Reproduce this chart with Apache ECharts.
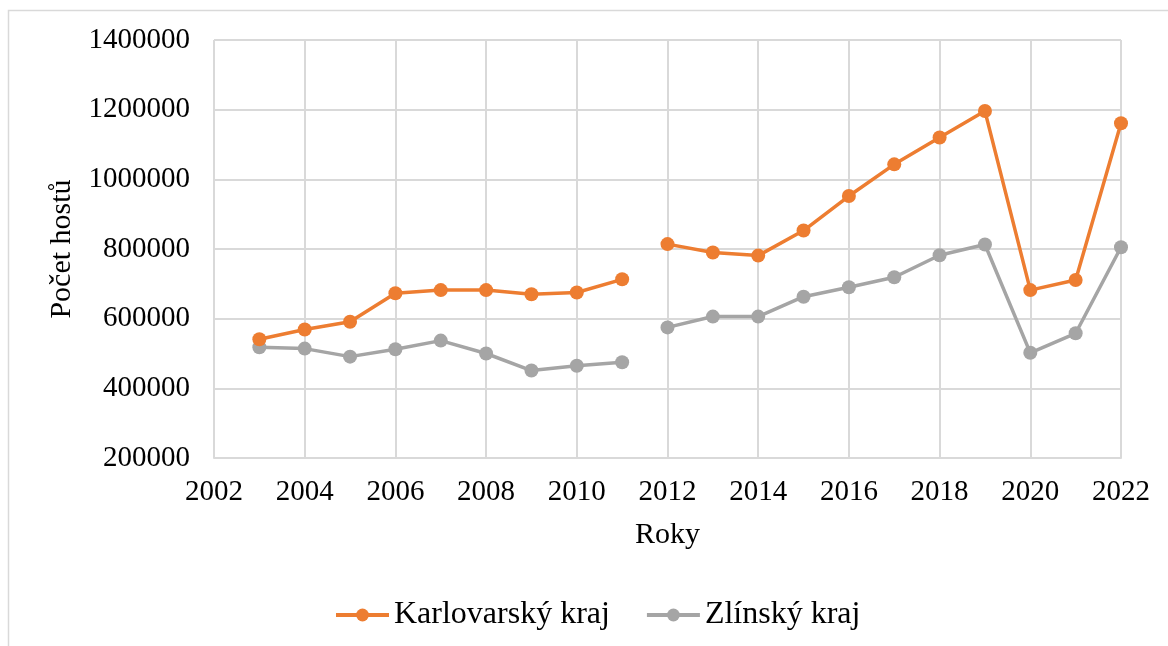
<!DOCTYPE html>
<html>
<head>
<meta charset="utf-8">
<script src="https://cdn.jsdelivr.net/npm/echarts@6/dist/echarts.min.js"></script>
<style>
  html, body { margin: 0; padding: 0; background: #fff; }
  #chart { width: 1168px; height: 646px; }
</style>
</head>
<body>
<div id="chart"></div>
<script>
// data
var roky = [2003, 2004, 2005, 2006, 2007, 2008, 2009, 2010, 2011,
            2012, 2013, 2014, 2015, 2016, 2017, 2018, 2019, 2020, 2021, 2022];
var karlovarsky = [541000, 569000, 591000, 673000, 682000, 682000, 670000, 675000, 713000,
                   814000, 790000, 781000, 853000, 952000, 1043000, 1120000, 1196000, 682000, 711000, 1161000];
var zlinsky = [518000, 514000, 491000, 512000, 537000, 500000, 451000, 465000, 475000,
               575000, 606000, 606000, 663000, 690000, 719000, 782000, 813000, 502000, 558000, 805000];
var zlomPred = 2012; // line is broken before this year

var font = 'Liberation Serif, Times New Roman, serif';

function toPoints(values) {
    var pts = [];
    roky.forEach(function(r, i) {
        if (r === zlomPred) pts.push([r - 0.5, '-']);
        pts.push([r, values[i]]);
    });
    return pts;
}

function plain(v) { return String(v); }

var chart = echarts.init(document.getElementById('chart'));

var option = {
    animation: false,
    textStyle: { fontFamily: font },
    graphic: [{
        type: 'rect',
        shape: { x: 8.5, y: 10.5, width: 1300, height: 800 },
        style: { fill: 'none', stroke: '#D9D9D9', lineWidth: 1.5 },
        silent: true
    }],
    grid: { left: 214, right: 47, top: 40, bottom: 188 },
    legend: {
        left: 329,
        top: 594,
        itemWidth: 53,
        itemHeight: 16,
        itemGap: 35,
        lineStyle: { width: 4 },
        textStyle: { fontFamily: font, fontSize: 32, color: '#000' },
        data: ['Karlovarský kraj', 'Zlínský kraj']
    },
    xAxis: {
        type: 'value',
        min: 2002,
        max: 2022,
        interval: 2,
        name: 'Roky',
        nameLocation: 'middle',
        nameGap: 62,
        nameTextStyle: { fontFamily: font, fontSize: 30, color: '#000' },
        axisLine: { lineStyle: { color: '#D9D9D9', width: 2 } },
        axisTick: { show: false },
        axisLabel: { fontFamily: font, fontSize: 29, color: '#000', margin: 20, formatter: plain },
        splitLine: { show: true, lineStyle: { color: '#D9D9D9', width: 2 } }
    },
    yAxis: {
        type: 'value',
        min: 200000,
        max: 1400000,
        interval: 200000,
        name: 'Počet hostů',
        nameLocation: 'middle',
        nameGap: 136,
        nameRotate: 90,
        nameTextStyle: { fontFamily: font, fontSize: 30, color: '#000' },
        axisLine: { show: false },
        axisTick: { show: false },
        axisLabel: { fontFamily: font, fontSize: 29, color: '#000', margin: 24, formatter: plain },
        splitLine: { show: true, lineStyle: { color: '#D9D9D9', width: 2 } }
    },
    series: [{
        name: 'Karlovarský kraj',
        type: 'line',
        data: toPoints(karlovarsky),
        connectNulls: false,
        symbol: 'circle',
        symbolSize: 14,
        color: '#ED7D31',
        lineStyle: { width: 3.5, color: '#ED7D31' },
        itemStyle: { color: '#ED7D31' }
    }, {
        name: 'Zlínský kraj',
        type: 'line',
        data: toPoints(zlinsky),
        connectNulls: false,
        symbol: 'circle',
        symbolSize: 14,
        color: '#A5A5A5',
        lineStyle: { width: 3.5, color: '#A5A5A5' },
        itemStyle: { color: '#A5A5A5' },
        z: 1
    }]
};

chart.setOption(option);
</script>
</body>
</html>
